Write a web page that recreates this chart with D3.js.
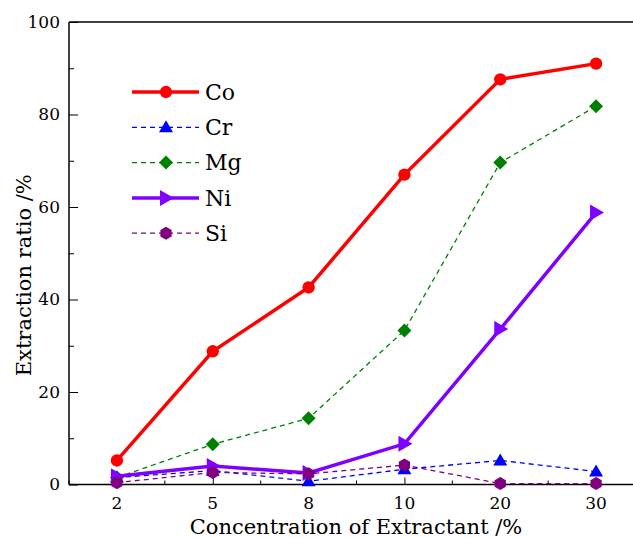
<!DOCTYPE html>
<html>
<head>
<meta charset="utf-8">
<script src="https://cdn.jsdelivr.net/npm/d3@7"></script>
<style>
  html, body { margin: 0; padding: 0; background: #fff; }
  svg { display: block; }
  svg text { font-family: 'DejaVu Serif', 'Liberation Serif', serif; }
</style>
</head>
<body>
<div id="chart"></div>
<script>
/* ===================================
   Extraction ratio vs extractant concentration
   =================================== */

const categories = ['2', '5', '8', '10', '20', '30'];
const coValues = [5.2, 28.8, 42.6, 67.0, 87.6, 91.0];
const crValues = [1.5, 3.0, 0.7, 3.3, 5.2, 2.8];
const mgValues = [1.5, 8.7, 14.3, 33.3, 69.6, 81.8];
const niValues = [1.8, 4.0, 2.5, 8.8, 33.6, 58.8];
const siValues = [0.4, 2.6, 2.3, 4.2, 0.2, 0.2];
const yTicks = [0, 20, 40, 60, 80, 100];

const SERIES = [
    { label: 'Co', values: coValues, color: '#ff0000', width: 3.5, dash: null, shape: 'circle' },
    { label: 'Cr', values: crValues, color: '#0000ff', width: 1.3, dash: '5,4', shape: 'triangle' },
    { label: 'Mg', values: mgValues, color: '#008000', width: 1.3, dash: '5,4', shape: 'diamond' },
    { label: 'Ni', values: niValues, color: '#7f00ff', width: 3.5, dash: null, shape: 'right' },
    { label: 'Si', values: siValues, color: '#800080', width: 1.3, dash: '5,4', shape: 'hexagon' }
];

function markerPath(shape) {
    switch (shape) {
        case 'circle': return d3.symbol(d3.symbolCircle, 120)();
        case 'triangle': return 'M0,-7L7,5L-7,5Z';
        case 'diamond': return 'M0,-7L7,0L0,7L-7,0Z';
        case 'right': return 'M-6,-8L8,0L-6,8Z';
        case 'hexagon': {
            const r = 6.5;
            const pts = d3.range(6).map(i => {
                const a = Math.PI / 6 + i * Math.PI / 3;
                return [r * Math.cos(a), r * Math.sin(a)];
            });
            return 'M' + pts.join('L') + 'Z';
        }
    }
}

function renderChart() {
    const width = 633;
    const height = 538;
    const left = 69, top = 22, bottom = 484.5;

    const svg = d3.select('#chart')
        .append('svg')
        .attr('width', width)
        .attr('height', height);

    const x = d3.scalePoint()
        .domain(categories)
        .range([left, 644])
        .padding(0.5);

    const y = d3.scaleLinear()
        .domain([0, 100])
        .range([bottom, top]);

    // minor positions between categories
    const step = x.step();
    const minorX = d3.range(categories.length + 1).map(i => left + i * step);

    // y axis (ticks inside)
    svg.append('g')
        .attr('transform', `translate(${left},0)`)
        .call(d3.axisRight(y).tickValues(yTicks).tickSize(9).tickFormat(''))
        .select('.domain').remove();
    svg.append('g')
        .attr('transform', `translate(${left},0)`)
        .call(d3.axisRight(y).tickValues(d3.range(10, 100, 20)).tickSize(5).tickFormat(''))
        .select('.domain').remove();

    svg.selectAll('.ylab')
        .data(yTicks)
        .enter()
        .append('text')
        .attr('x', left - 9)
        .attr('y', d => y(d))
        .attr('dy', '0.35em')
        .attr('text-anchor', 'end')
        .style('font-size', '17px')
        .text(d => d);

    // x axis (ticks inside)
    svg.append('g')
        .attr('transform', `translate(0,${bottom})`)
        .call(d3.axisTop(x).tickSize(7).tickFormat(''))
        .select('.domain').remove();
    minorX.forEach(mx => {
        svg.append('line')
            .attr('x1', mx).attr('x2', mx)
            .attr('y1', bottom).attr('y2', bottom - 4)
            .attr('stroke', '#000');
    });

    svg.selectAll('.xlab')
        .data(categories)
        .enter()
        .append('text')
        .attr('x', d => x(d))
        .attr('y', 509)
        .attr('text-anchor', 'middle')
        .style('font-size', '17px')
        .text(d => d);

    // frame lines
    svg.append('line')
        .attr('x1', left).attr('x2', width)
        .attr('y1', bottom).attr('y2', bottom)
        .attr('stroke', '#000').attr('stroke-width', 1.5);
    svg.append('line')
        .attr('x1', left).attr('x2', width)
        .attr('y1', top).attr('y2', top)
        .attr('stroke', '#000').attr('stroke-width', 1.5);
    svg.append('line')
        .attr('x1', left).attr('x2', left)
        .attr('y1', top).attr('y2', bottom)
        .attr('stroke', '#000').attr('stroke-width', 1.5);

    // axis titles
    svg.append('text')
        .attr('x', 356)
        .attr('y', 534)
        .attr('text-anchor', 'middle')
        .style('font-size', '21px')
        .text('Concentration of Extractant /%');

    svg.append('text')
        .attr('transform', `translate(31, ${(top + bottom) / 2 + 22}) rotate(-90)`)
        .attr('text-anchor', 'middle')
        .style('font-size', '21px')
        .text('Extraction ratio /%');

    // series
    const line = d3.line()
        .x((d, i) => x(categories[i]))
        .y(d => y(d));

    SERIES.forEach(s => {
        svg.append('path')
            .datum(s.values)
            .attr('d', line)
            .attr('fill', 'none')
            .attr('stroke', s.color)
            .attr('stroke-width', s.width)
            .attr('stroke-dasharray', s.dash);

        svg.selectAll(null)
            .data(s.values)
            .enter()
            .append('path')
            .attr('d', markerPath(s.shape))
            .attr('transform', (d, i) => `translate(${x(categories[i])},${y(d)})`)
            .attr('fill', s.color);
    });

    // legend
    const legend = svg.append('g')
        .attr('transform', 'translate(132, 92)');

    SERIES.forEach((s, i) => {
        const item = legend.append('g')
            .attr('transform', `translate(0, ${i * 35.3})`);

        item.append('line')
            .attr('x1', 0).attr('x2', 67)
            .attr('stroke', s.color)
            .attr('stroke-width', s.width)
            .attr('stroke-dasharray', s.dash);

        item.append('path')
            .attr('d', markerPath(s.shape))
            .attr('transform', 'translate(34,0)')
            .attr('fill', s.color);

        item.append('text')
            .attr('x', 73)
            .attr('y', 0)
            .attr('dy', '0.35em')
            .style('font-size', '22px')
            .text(s.label);
    });
}

renderChart();
</script>
</body>
</html>
